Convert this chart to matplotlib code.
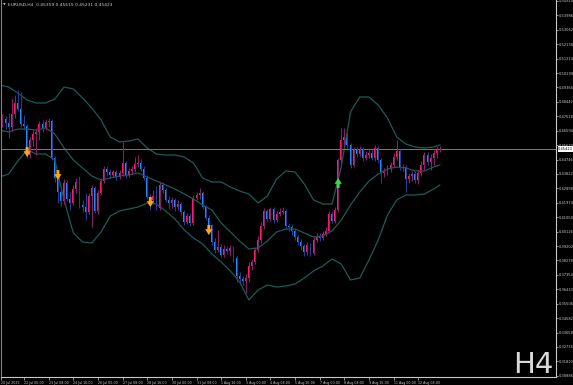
import numpy as np
import matplotlib.pyplot as plt
from matplotlib import transforms

# EURUSD H4, bar index 0 = 20 Jul 2025 00:00
bars = np.arange(4, 148)

opens = [
    0.47218, 0.46961, 0.47346, 0.47090, 0.46833, 0.47667, 0.48372, 0.47987, 0.47026, 0.46897,
    0.45038, 0.46000, 0.46385, 0.46513, 0.47026, 0.46769, 0.47154, 0.47218, 0.44846, 0.43564,
    0.42667, 0.42090, 0.43244, 0.42218, 0.41962, 0.42859, 0.43308, 0.41833, 0.41705, 0.41385,
    0.42410, 0.42923, 0.41449, 0.42603, 0.43372, 0.44141, 0.43949, 0.43756, 0.43949, 0.43628,
    0.43885, 0.44526, 0.43756, 0.44013, 0.44141, 0.44462, 0.44526, 0.44141, 0.43564, 0.42346,
    0.42154, 0.42410, 0.41641, 0.43115, 0.42795, 0.42154, 0.41962, 0.42154, 0.41705, 0.41898,
    0.41385, 0.40744, 0.41128, 0.40680, 0.42282, 0.42474, 0.42603, 0.41705, 0.41000, 0.40551,
    0.39462, 0.38949, 0.39141, 0.38628, 0.39013, 0.38885, 0.39077, 0.38436, 0.37282, 0.37090,
    0.36962, 0.37154, 0.37923, 0.38180, 0.38949, 0.39590, 0.40487, 0.41449, 0.40936, 0.41577,
    0.40872, 0.41257, 0.41385, 0.41449, 0.40487, 0.40423, 0.40167, 0.39782, 0.39462, 0.39205,
    0.38821, 0.39269, 0.38757, 0.39590, 0.39782, 0.39718, 0.39975, 0.40167, 0.41257, 0.40808,
    0.41513, 0.44718, 0.46000, 0.46192, 0.45679, 0.44397, 0.45359, 0.45103, 0.45423, 0.44846,
    0.45038, 0.45167, 0.44846, 0.45487, 0.44718, 0.43885, 0.44013, 0.44205, 0.44397, 0.44910,
    0.45295, 0.44205, 0.44269, 0.43500, 0.43692, 0.43821, 0.43436, 0.43885, 0.44397, 0.45038,
    0.44590, 0.44846, 0.45167, 0.45359,
]
highs = [
    0.47474, 0.47667, 0.47538, 0.47731, 0.48692, 0.48884, 0.49205, 0.49077, 0.47602, 0.47026,
    0.46192, 0.46641, 0.46769, 0.47218, 0.47282, 0.47346, 0.47410, 0.47346, 0.44974, 0.43885,
    0.42923, 0.43500, 0.43436, 0.42667, 0.43115, 0.43564, 0.43692, 0.42154, 0.42603, 0.42603,
    0.43115, 0.43051, 0.42795, 0.43564, 0.44333, 0.44333, 0.44141, 0.44077, 0.44077, 0.44077,
    0.45872, 0.44654, 0.44205, 0.44333, 0.44910, 0.45038, 0.44782, 0.44333, 0.43756, 0.42539,
    0.42795, 0.43051, 0.43308, 0.43308, 0.42923, 0.42410, 0.42346, 0.42282, 0.42154, 0.42026,
    0.41513, 0.41321, 0.41321, 0.42474, 0.42667, 0.42923, 0.42731, 0.41833, 0.41192, 0.40616,
    0.39718, 0.40231, 0.39334, 0.39269, 0.39205, 0.39269, 0.39205, 0.38564, 0.37539, 0.37282,
    0.37411, 0.38180, 0.38372, 0.39141, 0.39846, 0.40744, 0.41641, 0.41577, 0.41705, 0.41705,
    0.41449, 0.41641, 0.41705, 0.41577, 0.40680, 0.40616, 0.40295, 0.39910, 0.39654, 0.39334,
    0.39462, 0.39398, 0.39782, 0.40039, 0.40039, 0.40167, 0.40423, 0.41449, 0.41449, 0.41705,
    0.44846, 0.46769, 0.46769, 0.46449, 0.45808, 0.45551, 0.45551, 0.45615, 0.45551, 0.45295,
    0.45359, 0.45359, 0.45679, 0.45615, 0.44846, 0.44205, 0.44397, 0.44590, 0.45167, 0.46000,
    0.45423, 0.44462, 0.44397, 0.43885, 0.44013, 0.44013, 0.44077, 0.44654, 0.45231, 0.45231,
    0.45103, 0.45359, 0.45615, 0.45615,
]
lows = [
    0.46833, 0.46833, 0.46705, 0.46128, 0.46577, 0.47410, 0.47859, 0.46833, 0.46641, 0.44846,
    0.44846, 0.45615, 0.45038, 0.46000, 0.46513, 0.46641, 0.46833, 0.44718, 0.43308, 0.41962,
    0.41769, 0.41898, 0.42090, 0.41513, 0.41833, 0.42603, 0.41641, 0.41385, 0.40872, 0.41257,
    0.40423, 0.41321, 0.41257, 0.42474, 0.43244, 0.43692, 0.43564, 0.43628, 0.43436, 0.43500,
    0.43692, 0.43564, 0.43628, 0.43821, 0.43949, 0.44269, 0.44013, 0.43436, 0.42218, 0.41513,
    0.41898, 0.41513, 0.41513, 0.42603, 0.42026, 0.41577, 0.41641, 0.41449, 0.41513, 0.41192,
    0.40551, 0.40616, 0.40487, 0.40551, 0.42154, 0.42218, 0.41577, 0.40872, 0.40359, 0.39269,
    0.38757, 0.38821, 0.38500, 0.38500, 0.38693, 0.38564, 0.38180, 0.36898, 0.36770, 0.36705,
    0.36193, 0.36898, 0.37667, 0.38052, 0.38821, 0.39398, 0.40295, 0.40744, 0.40808, 0.40680,
    0.40744, 0.41128, 0.41257, 0.40295, 0.40167, 0.39910, 0.39590, 0.39269, 0.38949, 0.38564,
    0.38628, 0.38564, 0.38628, 0.39462, 0.39526, 0.39590, 0.39846, 0.40039, 0.40680, 0.40680,
    0.41385, 0.44526, 0.45679, 0.45487, 0.44205, 0.44269, 0.44910, 0.44974, 0.44654, 0.44718,
    0.44846, 0.44718, 0.44654, 0.44526, 0.43244, 0.43628, 0.43756, 0.43949, 0.44269, 0.44718,
    0.44077, 0.44013, 0.42667, 0.43244, 0.43372, 0.43244, 0.43180, 0.43692, 0.44077, 0.44397,
    0.44077, 0.44397, 0.44846, 0.45231,
]
closes = [
    0.46961, 0.47346, 0.47090, 0.46833, 0.47667, 0.48372, 0.47987, 0.47026, 0.46897, 0.45038,
    0.46000, 0.46385, 0.46513, 0.47026, 0.46769, 0.47154, 0.47218, 0.44846, 0.43564, 0.42667,
    0.42090, 0.43244, 0.42218, 0.41962, 0.42859, 0.43308, 0.41833, 0.41705, 0.41385, 0.42410,
    0.42923, 0.41449, 0.42603, 0.43372, 0.44141, 0.43949, 0.43756, 0.43949, 0.43628, 0.43885,
    0.44526, 0.43756, 0.44013, 0.44141, 0.44462, 0.44526, 0.44141, 0.43564, 0.42346, 0.42154,
    0.42410, 0.41641, 0.43115, 0.42795, 0.42154, 0.41962, 0.42154, 0.41705, 0.41898, 0.41385,
    0.40744, 0.41128, 0.40680, 0.42282, 0.42474, 0.42603, 0.41705, 0.41000, 0.40551, 0.39462,
    0.38949, 0.39141, 0.38628, 0.39013, 0.38885, 0.39077, 0.38436, 0.37282, 0.37090, 0.36962,
    0.37154, 0.37923, 0.38180, 0.38949, 0.39590, 0.40487, 0.41449, 0.40936, 0.41577, 0.40872,
    0.41257, 0.41385, 0.41449, 0.40487, 0.40423, 0.40167, 0.39782, 0.39462, 0.39205, 0.38821,
    0.39269, 0.38757, 0.39590, 0.39782, 0.39718, 0.39975, 0.40167, 0.41257, 0.40808, 0.41513,
    0.44718, 0.46000, 0.46192, 0.45679, 0.44397, 0.45359, 0.45103, 0.45423, 0.44846, 0.45038,
    0.45167, 0.44846, 0.45487, 0.44718, 0.43885, 0.44013, 0.44205, 0.44397, 0.44910, 0.45295,
    0.44205, 0.44269, 0.43500, 0.43692, 0.43821, 0.43436, 0.43885, 0.44397, 0.45038, 0.44590,
    0.44846, 0.45167, 0.45359, 0.45423,
]

# bollinger bands, read every 3 bars
band_bars = list(range(4, 146, 3)) + [147]
band_upper = [
    0.49526, 0.49397, 0.49013, 0.48564, 0.48372, 0.48372, 0.48628, 0.49397, 0.49269, 0.48692,
    0.48051, 0.47282, 0.46192, 0.45872, 0.45936, 0.46064, 0.45487, 0.45103, 0.45038, 0.45038,
    0.44910, 0.44526, 0.43564, 0.43308, 0.43308, 0.42987, 0.42731, 0.42539, 0.41962, 0.42410,
    0.43500, 0.44013, 0.43949, 0.43180, 0.42154, 0.41898, 0.41898, 0.44269, 0.47795, 0.48756,
    0.48756, 0.48243, 0.47410, 0.46192, 0.45744, 0.45551, 0.45487, 0.45551, 0.45679,
]
band_middle = [
    0.46641, 0.46513, 0.46705, 0.46705, 0.46641, 0.46769, 0.46385, 0.45487, 0.44718, 0.44205,
    0.43692, 0.43436, 0.43564, 0.43692, 0.43756, 0.43885, 0.43628, 0.43372, 0.43115, 0.42859,
    0.42539, 0.42218, 0.41833, 0.41513, 0.40680, 0.40103, 0.39526, 0.39013, 0.39077, 0.39526,
    0.40103, 0.40295, 0.40295, 0.40039, 0.39782, 0.39846, 0.40167, 0.40872, 0.41833, 0.42667,
    0.43372, 0.43821, 0.44141, 0.44269, 0.44205, 0.44013, 0.44013, 0.44269, 0.44397,
]
band_lower = [
    0.43628, 0.43821, 0.44654, 0.45359, 0.45103, 0.45103, 0.44718, 0.42154, 0.40039, 0.39462,
    0.39398, 0.40103, 0.41128, 0.41449, 0.41577, 0.41705, 0.41962, 0.41898, 0.41449, 0.40936,
    0.40231, 0.39718, 0.39334, 0.38693, 0.38180, 0.37603, 0.36898, 0.35744, 0.36385, 0.36705,
    0.36577, 0.36641, 0.36770, 0.37154, 0.37603, 0.37923, 0.38372, 0.38052, 0.37026, 0.37154,
    0.38308, 0.39590, 0.41192, 0.42154, 0.42474, 0.42474, 0.42539, 0.42859, 0.43115,
]

# signal arrows (bar, price of the arrow tip)
down_arrow_bars = [13, 23, 53, 72]
down_arrow_tips = [0.44910, 0.43436, 0.41705, 0.39911]
up_arrow_bars = [114]
up_arrow_tips = [0.43564]

time_tick_bars = list(range(4, 141, 8))
time_labels = ["20 Jul 2025", "22 Jul 00:00", "23 Jul 08:00", "24 Jul 16:00",
               "26 Jul 00:00", "27 Jul 08:00", "28 Jul 16:00", "30 Jul 00:00",
               "31 Jul 08:00", "1 Aug 16:00", "3 Aug 00:00", "4 Aug 08:00",
               "5 Aug 16:00", "7 Aug 00:00", "8 Aug 08:00", "9 Aug 16:00",
               "11 Aug 00:00", "12 Aug 08:00"]

price_top = 0.54910
price_step = 0.00924

opens = np.array(opens)
highs = np.array(highs)
lows = np.array(lows)
closes = np.array(closes)

fig = plt.figure(figsize=(5.73, 3.85), dpi=100, facecolor='black')
ax = fig.add_axes([1 / 573, 8 / 385, 555 / 573, 377 / 385])
ax.set_facecolor('black')

xmin, xmax = 4.52, 184.72
ax.set_xlim(xmin, xmax)
ax.set_ylim(0.30808, 0.54974)

# bands
band_col = '#1c5c56'
ax.plot(band_bars, band_upper, color=band_col, lw=0.9)
ax.plot(band_bars, band_middle, color=band_col, lw=0.9)
ax.plot(band_bars, band_lower, color=band_col, lw=0.9)

# current price line
ax.axhline(closes[-1], color='#7a7a7a', lw=0.7)

# candles
bull = closes >= opens
wick_cols = np.where(bull, '#8a1d6c', '#223c9a')
body_cols = np.where(bull, '#ff1a6e', '#1e90ff')
ax.vlines(bars, lows, highs, colors=wick_cols, lw=0.8)
ax.bar(bars, np.abs(closes - opens), bottom=np.minimum(opens, closes),
       width=0.62, color=body_cols, linewidth=0)

# arrows
ARROW_LEN = 0.0064
astyle = 'simple,head_length=0.6,head_width=0.75,tail_width=0.3'
for b, tip in zip(down_arrow_bars, down_arrow_tips):
    ax.annotate('', xy=(b, tip), xytext=(b, tip + ARROW_LEN),
                arrowprops=dict(arrowstyle=astyle, color='#ffa31a',
                                mutation_scale=7, shrinkA=0, shrinkB=0, lw=0))
for b, tip in zip(up_arrow_bars, up_arrow_tips):
    ax.annotate('', xy=(b, tip), xytext=(b, tip - ARROW_LEN),
                arrowprops=dict(arrowstyle=astyle, color='#33dd44',
                                mutation_scale=7, shrinkA=0, shrinkB=0, lw=0))

# axes look
ax.spines['top'].set_visible(False)
ax.spines['left'].set_color('#808080')
ax.spines['right'].set_color('#c8c8c8')
ax.spines['bottom'].set_color('#c8c8c8')
for s in ['left', 'right', 'bottom']:
    ax.spines[s].set_linewidth(0.8)

yt = price_top - price_step * np.arange(27)
ax.yaxis.tick_right()
ax.set_yticks(yt)
ax.set_yticklabels([f'{v:.5f}' for v in yt])
ax.tick_params(axis='y', colors='#c8c8c8', labelsize=2.6, length=1.5,
               width=0.5, pad=0.8)

xt = [max(b, xmin) for b in time_tick_bars]
ax.set_xticks(xt)
ax.set_xticklabels(time_labels, ha='left')
ax.tick_params(axis='x', colors='#c8c8c8', labelsize=2.3, length=2,
               width=0.5, pad=0.6)

# price label on the scale
tr = transforms.blended_transform_factory(ax.transAxes, ax.transData)
ax.text(1.004, closes[-1], f'{closes[-1]:.5f}', transform=tr, fontsize=2.6,
        color='black', va='center', ha='left', clip_on=False,
        bbox=dict(boxstyle='square,pad=0.15', fc='white', ec='none'))

# header
ax.text(0.003, 0.992, '\u25bc', transform=ax.transAxes, fontsize=2.5,
        color='#c0c0c0', va='top')
ax.text(0.013, 0.993,
        f'EURUSD,H4  {opens[-1]:.5f} {highs[-1]:.5f} {lows[-1]:.5f} {closes[-1]:.5f}',
        transform=ax.transAxes, fontsize=3.2, color='#d0d0d0', va='top')

fig.text(553 / 573, 1 - 373 / 385, 'H4', ha='right', va='baseline',
         fontsize=21, color='#d9d9d9')

fig.savefig('out.png', dpi=100, facecolor='black')
